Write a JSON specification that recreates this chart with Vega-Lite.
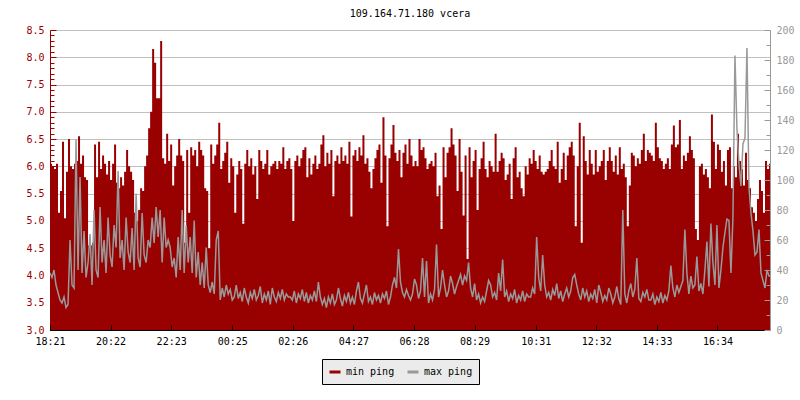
{
"$schema": "https://vega.github.io/schema/vega-lite/v6.json",
"width": 720, "height": 300,
"autosize": {"type": "none"},
"padding": {"left": 50, "top": 30, "right": 30, "bottom": 70},
"background": "white",
"title": {"text": "109.164.71.180 vcera", "font": "DejaVu Sans Mono", "fontSize": 10, "fontWeight": "normal", "color": "black", "offset": 6, "anchor": "middle"},
"config": {"view": {"stroke": null}, "font": "DejaVu Sans Mono"},
"data": {"values": [
{"m":0,"a":6.05,"b":38},{"m":4,"a":6.0,"b":35},{"m":8,"a":5.95,"b":40},{"m":12,"a":6.05,"b":30},{"m":16,"a":5.15,"b":25},{"m":20,"a":5.55,"b":20},{"m":24,"a":6.45,"b":18},{"m":28,"a":5.05,"b":22},{"m":32,"a":5.9,"b":15},{"m":36,"a":6.5,"b":17},
{"m":40,"a":6.0,"b":60},{"m":44,"a":5.95,"b":30},{"m":48,"a":6.05,"b":28},{"m":52,"a":6.1,"b":127},{"m":56,"a":6.55,"b":40},{"m":60,"a":6.05,"b":102},{"m":64,"a":6.2,"b":38},{"m":68,"a":5.8,"b":66},{"m":72,"a":5.75,"b":35},{"m":76,"a":4.55,"b":45},
{"m":80,"a":4.55,"b":64},{"m":84,"a":4.6,"b":30},{"m":88,"a":6.4,"b":80},{"m":92,"a":5.8,"b":40},{"m":96,"a":6.45,"b":35},{"m":100,"a":5.95,"b":82},{"m":104,"a":6.2,"b":45},{"m":108,"a":6.05,"b":60},{"m":112,"a":5.85,"b":38},{"m":116,"a":6.1,"b":75},
{"m":120,"a":5.75,"b":50},{"m":124,"a":6.05,"b":42},{"m":128,"a":6.4,"b":70},{"m":132,"a":5.7,"b":55},{"m":136,"a":5.6,"b":106},{"m":140,"a":5.8,"b":48},{"m":144,"a":5.65,"b":60},{"m":148,"a":5.9,"b":40},{"m":152,"a":6.3,"b":75},{"m":156,"a":6.0,"b":52},
{"m":160,"a":5.9,"b":45},{"m":164,"a":5.75,"b":68},{"m":168,"a":5.15,"b":40},{"m":172,"a":5.0,"b":91},{"m":176,"a":5.2,"b":48},{"m":180,"a":5.6,"b":42},{"m":184,"a":5.55,"b":78},{"m":188,"a":6.0,"b":50},{"m":192,"a":6.2,"b":45},{"m":196,"a":6.7,"b":60},
{"m":200,"a":7.0,"b":55},{"m":204,"a":8.15,"b":75},{"m":208,"a":7.9,"b":58},{"m":212,"a":7.25,"b":82},{"m":216,"a":7.25,"b":62},{"m":220,"a":8.3,"b":80},{"m":224,"a":6.15,"b":45},{"m":228,"a":6.05,"b":75},{"m":232,"a":6.6,"b":55},{"m":236,"a":6.1,"b":60},
{"m":240,"a":6.4,"b":55},{"m":244,"a":5.65,"b":42},{"m":248,"a":6.0,"b":48},{"m":252,"a":6.2,"b":35},{"m":256,"a":6.5,"b":62},{"m":260,"a":6.2,"b":40},{"m":264,"a":6.1,"b":80},{"m":268,"a":4.6,"b":38},{"m":272,"a":6.3,"b":70},{"m":276,"a":5.15,"b":45},
{"m":280,"a":6.35,"b":62},{"m":284,"a":6.2,"b":38},{"m":288,"a":6.3,"b":73},{"m":292,"a":6.0,"b":35},{"m":296,"a":6.45,"b":52},{"m":300,"a":6.3,"b":30},{"m":304,"a":6.2,"b":45},{"m":308,"a":5.6,"b":28},{"m":312,"a":5.55,"b":55},{"m":316,"a":4.5,"b":30},
{"m":320,"a":6.4,"b":25},{"m":324,"a":6.05,"b":32},{"m":328,"a":6.2,"b":24},{"m":332,"a":6.4,"b":60},{"m":336,"a":6.8,"b":66},{"m":340,"a":5.95,"b":20},{"m":344,"a":6.1,"b":28},{"m":348,"a":6.25,"b":22},{"m":352,"a":6.45,"b":30},{"m":356,"a":5.7,"b":24},
{"m":360,"a":6.15,"b":27},{"m":364,"a":6.0,"b":20},{"m":368,"a":5.15,"b":22},{"m":372,"a":5.85,"b":30},{"m":376,"a":6.1,"b":21},{"m":380,"a":5.95,"b":25},{"m":384,"a":4.95,"b":19},{"m":388,"a":6.05,"b":28},{"m":392,"a":6.3,"b":22},{"m":396,"a":6.0,"b":18},
{"m":400,"a":6.15,"b":25},{"m":404,"a":5.85,"b":21},{"m":408,"a":6.0,"b":27},{"m":412,"a":5.4,"b":20},{"m":416,"a":6.3,"b":23},{"m":420,"a":6.1,"b":29},{"m":424,"a":5.95,"b":18},{"m":428,"a":6.05,"b":24},{"m":432,"a":6.3,"b":20},{"m":436,"a":5.85,"b":26},
{"m":440,"a":6.0,"b":17},{"m":444,"a":6.05,"b":28},{"m":448,"a":6.1,"b":22},{"m":452,"a":5.95,"b":19},{"m":456,"a":6.1,"b":25},{"m":460,"a":6.05,"b":21},{"m":464,"a":6.35,"b":27},{"m":468,"a":5.95,"b":20},{"m":472,"a":6.1,"b":24},{"m":476,"a":6.15,"b":22},
{"m":480,"a":5.95,"b":22},{"m":484,"a":5.0,"b":20},{"m":488,"a":6.1,"b":26},{"m":492,"a":6.2,"b":18},{"m":496,"a":6.0,"b":24},{"m":500,"a":6.15,"b":21},{"m":504,"a":6.3,"b":27},{"m":508,"a":6.35,"b":19},{"m":512,"a":5.8,"b":25},{"m":516,"a":6.15,"b":18},
{"m":520,"a":5.85,"b":23},{"m":524,"a":6.05,"b":20},{"m":528,"a":6.2,"b":26},{"m":532,"a":5.95,"b":19},{"m":536,"a":6.05,"b":32},{"m":540,"a":6.4,"b":22},{"m":544,"a":6.57,"b":17},{"m":548,"a":6.0,"b":21},{"m":552,"a":6.25,"b":15},{"m":556,"a":6.05,"b":22},
{"m":560,"a":6.3,"b":18},{"m":564,"a":5.45,"b":24},{"m":568,"a":6.1,"b":17},{"m":572,"a":6.2,"b":20},{"m":576,"a":6.05,"b":28},{"m":580,"a":6.35,"b":21},{"m":584,"a":6.1,"b":16},{"m":588,"a":6.2,"b":23},{"m":592,"a":6.05,"b":19},{"m":596,"a":6.45,"b":25},
{"m":600,"a":5.08,"b":18},{"m":604,"a":6.2,"b":22},{"m":608,"a":6.3,"b":17},{"m":612,"a":6.1,"b":26},{"m":616,"a":6.35,"b":32},{"m":620,"a":6.2,"b":21},{"m":624,"a":6.57,"b":18},{"m":628,"a":6.05,"b":24},{"m":632,"a":6.15,"b":30},{"m":636,"a":5.9,"b":19},
{"m":640,"a":5.6,"b":22},{"m":644,"a":5.95,"b":17},{"m":648,"a":6.15,"b":25},{"m":652,"a":6.3,"b":20},{"m":656,"a":6.4,"b":23},{"m":660,"a":5.7,"b":18},{"m":664,"a":6.9,"b":24},{"m":668,"a":6.2,"b":21},{"m":672,"a":4.9,"b":26},{"m":676,"a":6.15,"b":17},
{"m":680,"a":6.4,"b":22},{"m":684,"a":6.76,"b":30},{"m":688,"a":6.25,"b":35},{"m":692,"a":6.1,"b":28},{"m":696,"a":6.3,"b":54},{"m":700,"a":5.8,"b":32},{"m":704,"a":6.25,"b":25},{"m":708,"a":6.4,"b":22},{"m":712,"a":6.05,"b":27},{"m":716,"a":6.5,"b":23},
{"m":720,"a":6.2,"b":20},{"m":724,"a":6.0,"b":24},{"m":728,"a":6.1,"b":34},{"m":732,"a":6.0,"b":30},{"m":736,"a":6.5,"b":21},{"m":740,"a":6.3,"b":26},{"m":744,"a":6.35,"b":48},{"m":748,"a":6.15,"b":22},{"m":752,"a":5.95,"b":46},{"m":756,"a":6.05,"b":18},
{"m":760,"a":6.1,"b":24},{"m":764,"a":6.0,"b":20},{"m":768,"a":6.25,"b":27},{"m":772,"a":5.45,"b":57},{"m":776,"a":5.65,"b":22},{"m":780,"a":4.85,"b":28},{"m":784,"a":6.35,"b":40},{"m":788,"a":5.8,"b":30},{"m":792,"a":6.25,"b":22},{"m":796,"a":6.35,"b":26},
{"m":800,"a":6.7,"b":36},{"m":804,"a":6.4,"b":31},{"m":808,"a":6.2,"b":24},{"m":812,"a":5.55,"b":29},{"m":816,"a":6.5,"b":33},{"m":820,"a":5.9,"b":37},{"m":824,"a":5.1,"b":30},{"m":828,"a":6.2,"b":36},{"m":832,"a":4.3,"b":33},{"m":836,"a":6.35,"b":45},
{"m":840,"a":5.8,"b":28},{"m":844,"a":6.1,"b":22},{"m":848,"a":6.3,"b":31},{"m":852,"a":5.2,"b":20},{"m":856,"a":5.95,"b":24},{"m":860,"a":6.15,"b":18},{"m":864,"a":6.45,"b":22},{"m":868,"a":5.95,"b":19},{"m":872,"a":5.8,"b":26},{"m":876,"a":6.1,"b":33},
{"m":880,"a":6.0,"b":30},{"m":884,"a":5.9,"b":22},{"m":888,"a":6.6,"b":25},{"m":892,"a":5.9,"b":20},{"m":896,"a":6.1,"b":38},{"m":900,"a":6.25,"b":26},{"m":904,"a":6.15,"b":47},{"m":908,"a":5.75,"b":22},{"m":912,"a":5.85,"b":26},{"m":916,"a":6.05,"b":19},
{"m":920,"a":5.4,"b":24},{"m":924,"a":6.15,"b":21},{"m":928,"a":6.35,"b":27},{"m":932,"a":5.8,"b":18},{"m":936,"a":5.9,"b":23},{"m":940,"a":5.6,"b":20},{"m":944,"a":5.45,"b":26},{"m":948,"a":6.0,"b":19},{"m":952,"a":5.85,"b":24},{"m":956,"a":6.15,"b":22},
{"m":960,"a":6.05,"b":22},{"m":964,"a":6.3,"b":28},{"m":968,"a":6.1,"b":24},{"m":972,"a":5.95,"b":62},{"m":976,"a":6.2,"b":35},{"m":980,"a":5.9,"b":26},{"m":984,"a":5.85,"b":50},{"m":988,"a":5.9,"b":30},{"m":992,"a":5.95,"b":22},{"m":996,"a":6.1,"b":25},
{"m":1000,"a":6.3,"b":20},{"m":1004,"a":6.0,"b":27},{"m":1008,"a":5.95,"b":23},{"m":1012,"a":6.45,"b":31},{"m":1016,"a":5.7,"b":21},{"m":1020,"a":5.95,"b":26},{"m":1024,"a":6.25,"b":19},{"m":1028,"a":5.75,"b":24},{"m":1032,"a":6.2,"b":28},{"m":1036,"a":6.35,"b":22},
{"m":1040,"a":6.45,"b":26},{"m":1044,"a":6.2,"b":35},{"m":1048,"a":4.9,"b":37},{"m":1052,"a":6.0,"b":30},{"m":1056,"a":6.8,"b":24},{"m":1060,"a":4.6,"b":20},{"m":1064,"a":6.55,"b":28},{"m":1068,"a":6.1,"b":22},{"m":1072,"a":5.85,"b":26},{"m":1076,"a":6.3,"b":19},
{"m":1080,"a":6.05,"b":24},{"m":1084,"a":5.85,"b":21},{"m":1088,"a":6.3,"b":27},{"m":1092,"a":5.9,"b":18},{"m":1096,"a":6.0,"b":30},{"m":1100,"a":6.1,"b":25},{"m":1104,"a":6.3,"b":19},{"m":1108,"a":5.75,"b":23},{"m":1112,"a":6.1,"b":20},{"m":1116,"a":6.35,"b":28},
{"m":1120,"a":6.1,"b":24},{"m":1124,"a":5.9,"b":18},{"m":1128,"a":6.2,"b":22},{"m":1132,"a":5.85,"b":29},{"m":1136,"a":6.35,"b":21},{"m":1140,"a":5.95,"b":17},{"m":1144,"a":6.05,"b":80},{"m":1148,"a":5.8,"b":24},{"m":1152,"a":4.9,"b":18},{"m":1156,"a":5.65,"b":26},
{"m":1160,"a":6.25,"b":31},{"m":1164,"a":6.2,"b":22},{"m":1168,"a":6.0,"b":27},{"m":1172,"a":6.15,"b":48},{"m":1176,"a":6.05,"b":21},{"m":1180,"a":6.3,"b":19},{"m":1184,"a":6.6,"b":25},{"m":1188,"a":6.1,"b":22},{"m":1192,"a":6.3,"b":27},{"m":1196,"a":6.25,"b":20},
{"m":1200,"a":6.2,"b":20},{"m":1204,"a":6.1,"b":24},{"m":1208,"a":6.8,"b":17},{"m":1212,"a":6.35,"b":22},{"m":1216,"a":6.15,"b":19},{"m":1220,"a":6.1,"b":25},{"m":1224,"a":5.95,"b":18},{"m":1228,"a":6.05,"b":23},{"m":1232,"a":6.15,"b":20},{"m":1236,"a":5.95,"b":26},
{"m":1240,"a":6.4,"b":43},{"m":1244,"a":6.75,"b":28},{"m":1248,"a":6.35,"b":22},{"m":1252,"a":6.4,"b":30},{"m":1256,"a":6.85,"b":25},{"m":1260,"a":5.95,"b":29},{"m":1264,"a":6.2,"b":33},{"m":1268,"a":6.1,"b":67},{"m":1272,"a":6.25,"b":38},{"m":1276,"a":6.55,"b":24},
{"m":1280,"a":6.3,"b":36},{"m":1284,"a":6.15,"b":28},{"m":1288,"a":4.85,"b":30},{"m":1292,"a":4.65,"b":49},{"m":1296,"a":6.0,"b":26},{"m":1300,"a":6.05,"b":31},{"m":1304,"a":5.85,"b":24},{"m":1308,"a":5.95,"b":40},{"m":1312,"a":5.8,"b":59},{"m":1316,"a":5.6,"b":29},
{"m":1320,"a":6.95,"b":71},{"m":1324,"a":6.45,"b":45},{"m":1328,"a":5.95,"b":30},{"m":1332,"a":6.4,"b":70},{"m":1336,"a":6.3,"b":28},{"m":1340,"a":5.9,"b":40},{"m":1344,"a":6.1,"b":55},{"m":1348,"a":5.65,"b":65},{"m":1352,"a":6.3,"b":74},{"m":1356,"a":6.35,"b":73},
{"m":1360,"a":5.6,"b":38},{"m":1364,"a":6.0,"b":75},{"m":1368,"a":5.8,"b":183},{"m":1372,"a":6.6,"b":134},{"m":1376,"a":6.1,"b":111},{"m":1380,"a":5.95,"b":96},{"m":1384,"a":5.65,"b":124},{"m":1388,"a":6.25,"b":128},{"m":1392,"a":5.75,"b":188},{"m":1396,"a":5.6,"b":95},
{"m":1400,"a":5.25,"b":78},{"m":1404,"a":5.15,"b":66},{"m":1408,"a":5.0,"b":50},{"m":1412,"a":5.4,"b":52},{"m":1416,"a":5.75,"b":67},{"m":1420,"a":5.55,"b":38},{"m":1424,"a":5.15,"b":33},{"m":1428,"a":6.1,"b":28},{"m":1432,"a":5.95,"b":40},{"m":1436,"a":6.05,"b":36},
{"m":1438,"a":5.8,"b":36}
]},
"encoding": {
  "x": {"field": "m", "type": "quantitative", "scale": {"domain": [0, 1438], "nice": false, "zero": false},
    "axis": {"values": [0,121,242,364,485,606,727,848,970,1091,1212,1333], "labelExpr": "timeFormat(datetime(2024,0,1,18,21+datum.value),'%H:%M')", "grid": false, "domainColor": "black", "tickColor": "black", "tickSize": -5, "labelColor": "black", "labelFont": "DejaVu Sans Mono", "labelFontSize": 10, "labelPadding": 11, "labelFlush": false, "title": null, "zindex": 1}}
},
"layer": [
  {"mark": {"type": "area", "interpolate": "step-after", "clip": true},
   "encoding": {
     "y": {"field": "a", "type": "quantitative", "scale": {"domain": [3, 8.5], "nice": false, "zero": false},
       "axis": {"orient": "left", "values": [3,3.1,3.2,3.3,3.4,3.5,3.6,3.7,3.8,3.9,4,4.1,4.2,4.3,4.4,4.5,4.6,4.7,4.8,4.9,5,5.1,5.2,5.3,5.4,5.5,5.6,5.7,5.8,5.9,6,6.1,6.2,6.3,6.4,6.5,6.6,6.7,6.8,6.9,7,7.1,7.2,7.3,7.4,7.5,7.6,7.7,7.8,7.9,8,8.1,8.2,8.3,8.4,8.5],
         "labelExpr": "abs(datum.value*2-round(datum.value*2))<0.01 ? format(datum.value,'.1f') : ''",
         "tickSize": {"condition": {"test": "abs(datum.value*2-round(datum.value*2))<0.01", "value": -6}, "value": -4},
         "gridOpacity": {"condition": {"test": "abs(datum.value*2-round(datum.value*2))<0.01", "value": 1}, "value": 0},
         "grid": true, "gridColor": "#c0c0c0", "domainColor": "#990000", "tickColor": "#990000", "labelColor": "#990000", "labelFont": "DejaVu Sans Mono", "labelFontSize": 10, "labelPadding": 12, "title": null, "zindex": 0}},
     "color": {"datum": "min ping", "type": "nominal", "scale": {"domain": ["min ping", "max ping"], "range": ["#990000", "#999999"]},
       "legend": {"orient": "none", "legendX": 272, "legendY": 329, "direction": "horizontal", "title": null, "fillColor": "#ebebeb", "strokeColor": "black", "padding": 6, "labelFont": "DejaVu Sans Mono", "labelFontSize": 10, "labelColor": "black", "symbolType": "stroke", "symbolSize": 121, "symbolStrokeWidth": 3, "columnPadding": 6, "labelOffset": 4,
         "encode": {"symbols": {"update": {"stroke": {"scale": "color", "field": "value"}, "fill": {"value": "transparent"}}}}}}
   }},
  {"mark": {"type": "line", "interpolate": "linear", "clip": true, "strokeWidth": 1.5},
   "encoding": {
     "y": {"field": "b", "type": "quantitative", "scale": {"domain": [0, 200], "nice": false},
       "axis": {"orient": "right", "values": [0,10,20,30,40,50,60,70,80,90,100,110,120,130,140,150,160,170,180,190,200],
         "labelExpr": "datum.value % 20 == 0 ? datum.value : ''",
         "tickSize": {"condition": {"test": "datum.value % 20 == 0", "value": -6}, "value": -4},
         "grid": false, "domainColor": "#999999", "tickColor": "#999999", "labelColor": "#999999", "labelFont": "DejaVu Sans Mono", "labelFontSize": 10, "labelPadding": 12, "title": null, "zindex": 1}},
     "color": {"datum": "max ping", "type": "nominal"}
   }}
],
"resolve": {"scale": {"y": "independent"}}
}
